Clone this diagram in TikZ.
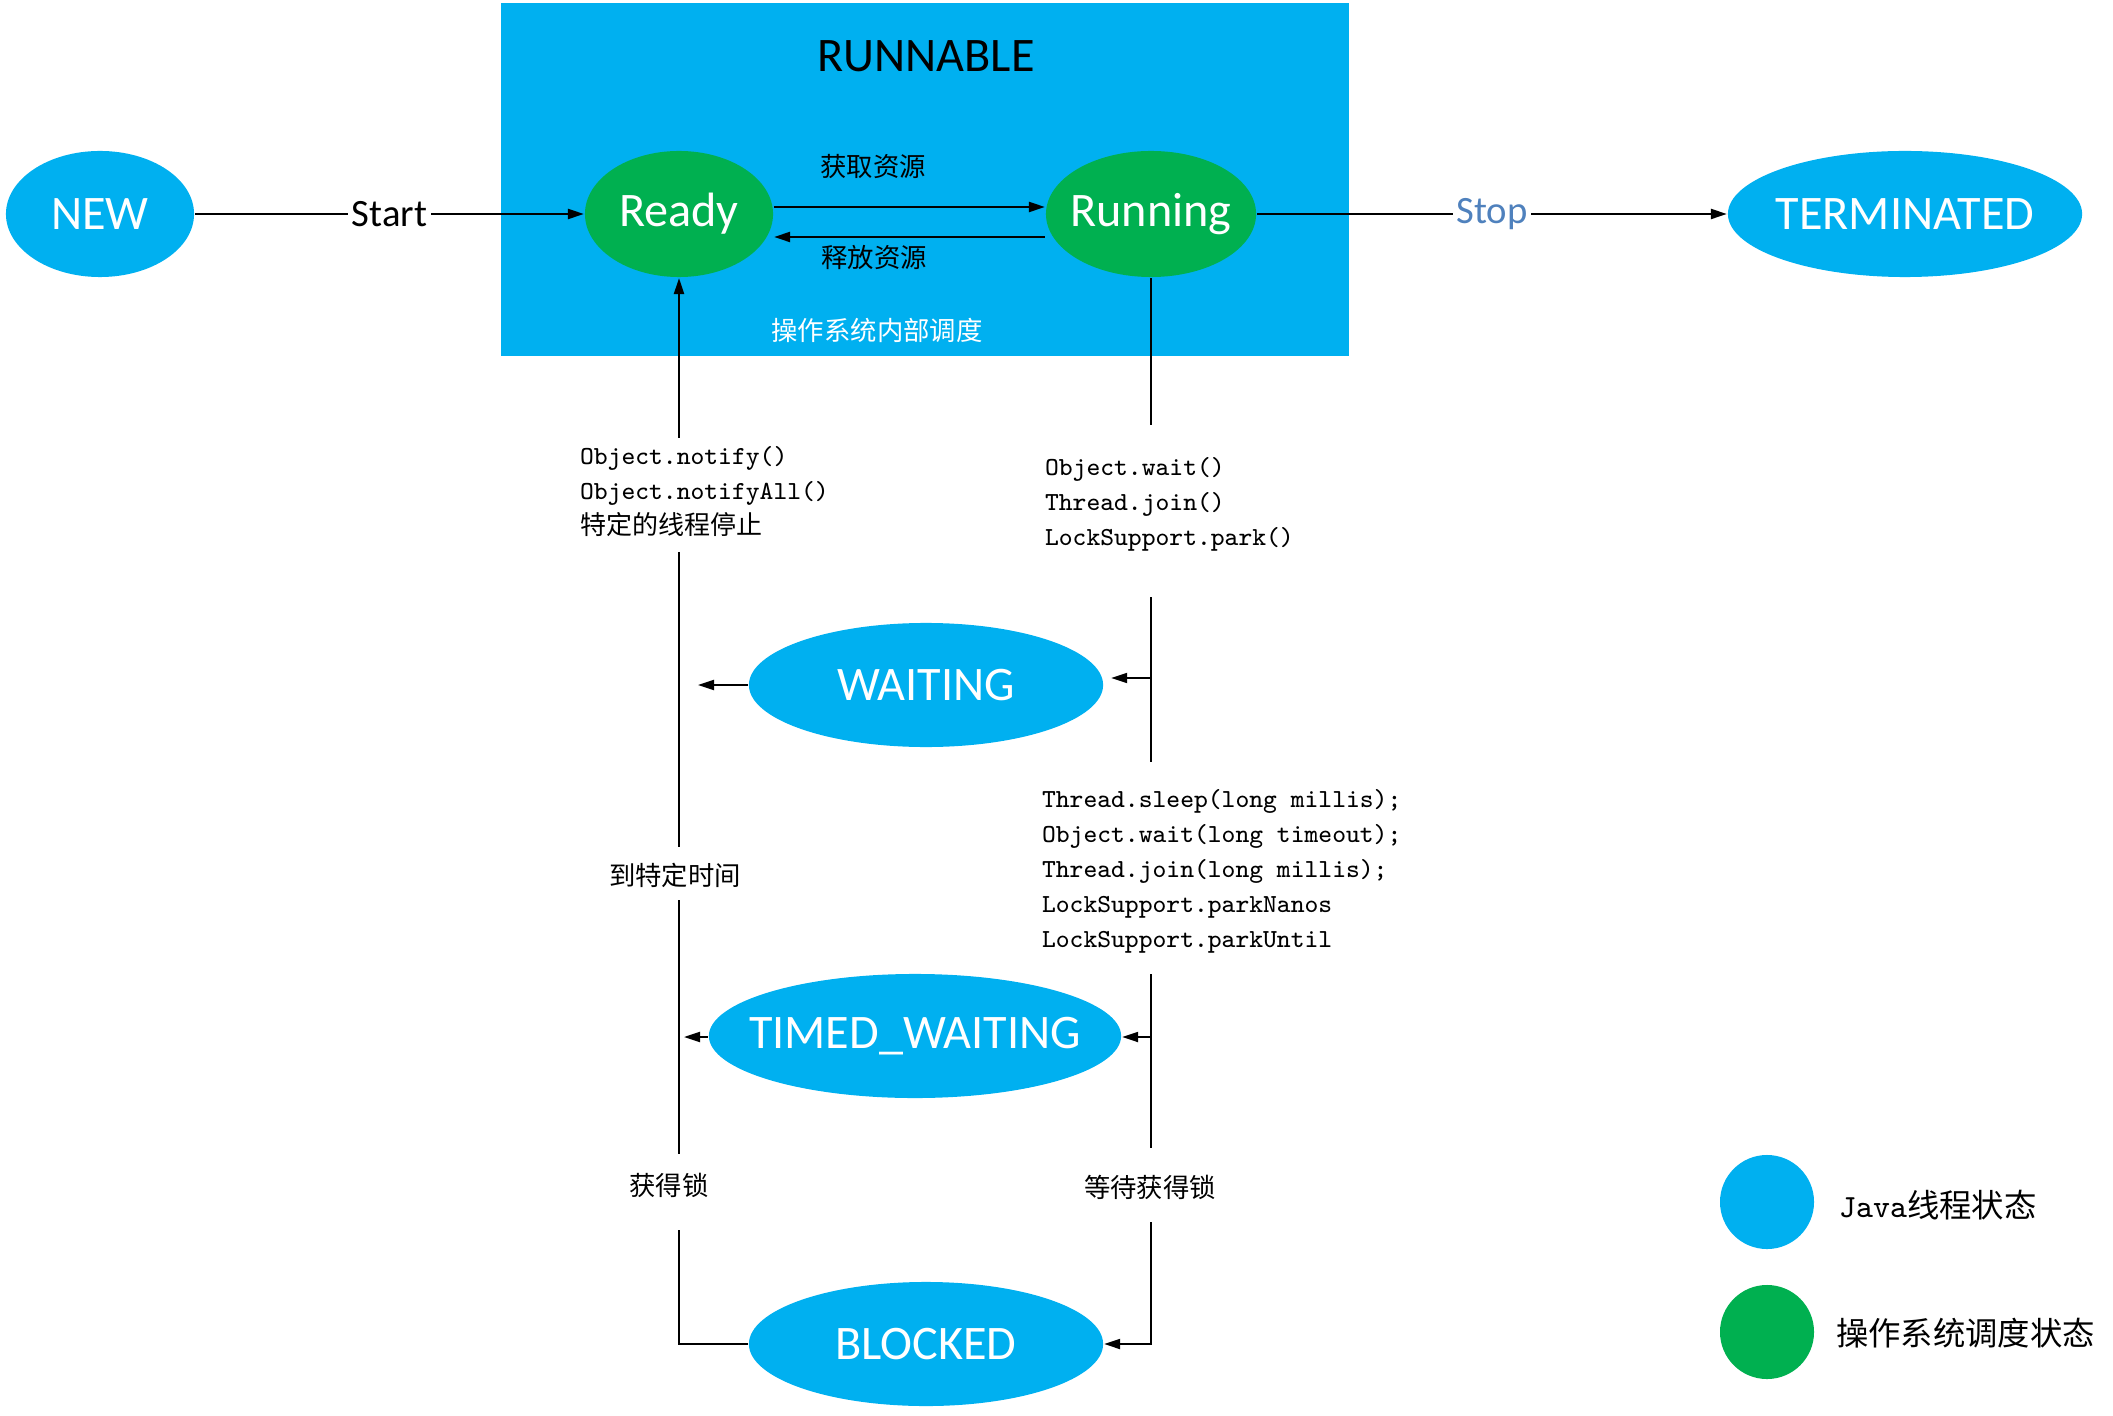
\documentclass[tikz,border=0pt]{standalone}
\usepackage{fontspec}
\setmainfont{Carlito}
\newfontfamily\cjk{Noto Sans CJK SC}
\usetikzlibrary{shapes.geometric,arrows.meta}
\definecolor{javablue}{RGB}{0,176,240}
\definecolor{osgreen}{RGB}{0,176,80}
\definecolor{stopblue}{RGB}{79,129,189}
\newcommand{\inell}[1]{\makebox[0pt]{#1}}
\tikzset{
  state/.style={ellipse, inner sep=0pt, text=white, font=\fontsize{13.7}{16}\selectfont},
  javastate/.style={state, fill=javablue},
  osstate/.style={state, fill=osgreen},
  arr/.style={-{Triangle[length=0.16cm,width=0.1cm]}},
  cnlabel/.style={inner sep=0pt, font=\cjk\fontsize{7.5}{10}\selectfont},
  codeblock/.style={anchor=north west, align=left, inner sep=0pt, font=\ttfamily\fontsize{7.4}{9.96}\selectfont},
  edgelabel/.style={fill=white, inner sep=1pt, font=\fontsize{11}{13}\selectfont},
  legend/.style={anchor=west, inner sep=0pt, font=\fontsize{9.2}{11}\selectfont},
}
\begin{document}
\begin{tikzpicture}[x=0.01cm, y=-0.01cm, line width=0.6pt]
  \useasboundingbox (0,0) rectangle (2113,1416);
  % the RUNNABLE area
  \fill[javablue] (501,3) rectangle (1349,356);
  \node[font=\fontsize{13.7}{16}\selectfont] (runnable) at (926,56) {RUNNABLE};
  % states
  \node[javastate, minimum width=1.88cm, minimum height=1.26cm] (new) at (100,214) {\inell{NEW}};
  \node[osstate, minimum width=1.88cm, minimum height=1.26cm] (ready) at (679,214) {\inell{Ready}};
  \node[osstate, minimum width=2.10cm, minimum height=1.26cm] (running) at (1151,214) {\inell{Running}};
  \node[javastate, minimum width=3.54cm, minimum height=1.26cm] (terminated) at (1905,214) {\inell{TERMINATED}};
  \node[javastate, minimum width=3.54cm, minimum height=1.24cm] (waiting) at (926,685) {\inell{WAITING}};
  \node[javastate, minimum width=4.12cm, minimum height=1.24cm] (timed) at (915,1036) {\inell{TIMED\_WAITING}};
  \node[javastate, minimum width=3.54cm, minimum height=1.24cm] (blocked) at (926,1344) {\inell{BLOCKED}};
  % top row
  \draw[arr] (new) -- node[edgelabel] {Start} (ready);
  \draw[arr] (running) -- node[edgelabel, text=stopblue] {Stop} (terminated);
  \draw[arr] (ready.east |- 0,207) -- (running.west |- 0,207);
  \draw[arr] (running.west |- 0,237) -- (ready.east |- 0,237);
  \node[cnlabel] (acquire) at (873,167) {获取资源};
  \node[cnlabel] (release) at (874,257) {释放资源};
  \node[cnlabel, text=white] (sched) at (877,330) {操作系统内部调度};
  % texts on the two vertical lines
  \node[codeblock] (notify) at (579,445) {Object.notify()\\Object.notifyAll()\\{\cjk 特定的线程停止}};
  \node[codeblock] (waitcalls) at (1044,456) {Object.wait()\\Thread.join()\\LockSupport.park()};
  \node[codeblock] (timedcalls) at (1041,788) {Thread.sleep(long millis);\\Object.wait(long timeout);\\Thread.join(long millis);\\LockSupport.parkNanos\\LockSupport.parkUntil};
  \node[cnlabel] (timeup) at (675,875) {到特定时间};
  \node[cnlabel] (gotlock) at (669,1185) {获得锁};
  \node[cnlabel] (waitlock) at (1150,1187) {等待获得锁};
  % left line, back to Ready
  \coordinate (l1) at (679,438);
  \coordinate (l2) at (679,552);
  \coordinate (l3) at (679,847);
  \coordinate (l4) at (679,900);
  \coordinate (l5) at (679,1154);
  \coordinate (l6) at (679,1230);
  \draw[arr] (l1) -- (ready.south);
  \draw (l2) -- (l3);
  \draw (l4) -- (l5);
  \draw (l6) |- (blocked.west);
  % right line, down from Running
  \coordinate (r1) at (1151,425);
  \coordinate (r2) at (1151,597);
  \coordinate (r3) at (1151,762);
  \coordinate (r4) at (1151,974);
  \coordinate (r5) at (1151,1148);
  \coordinate (r6) at (1151,1222);
  \draw (running.south) -- (r1);
  \draw (r2) -- (r3);
  \draw (r4) -- (r5);
  \draw[arr] (r6) |- (blocked.east);
  % side arrows
  \coordinate (wl) at (698,685);
  \coordinate (wr) at (1151,678);
  \coordinate (tl) at (684,1037);
  \coordinate (tr) at (1151,1037);
  \draw[arr] (waiting.west) -- (wl);
  \draw[arr, shorten >=2pt] (wr) -- (wr -| waiting.east);
  \draw[arr] (timed.west |- tl) -- (tl);
  \draw[arr] (tr) -- (tr -| timed.east);
  % legend
  \node[circle, fill=javablue, minimum size=0.94cm, inner sep=0pt] (legjava) at (1767,1202) {};
  \node[circle, fill=osgreen, minimum size=0.94cm, inner sep=0pt] (legos) at (1767,1332) {};
  \node[legend] (legjavatext) at (1838,1205) {{\ttfamily Java}{\cjk 线程状态}};
  \node[legend] (legostext) at (1835,1333) {\cjk 操作系统调度状态};
\end{tikzpicture}
\end{document}
